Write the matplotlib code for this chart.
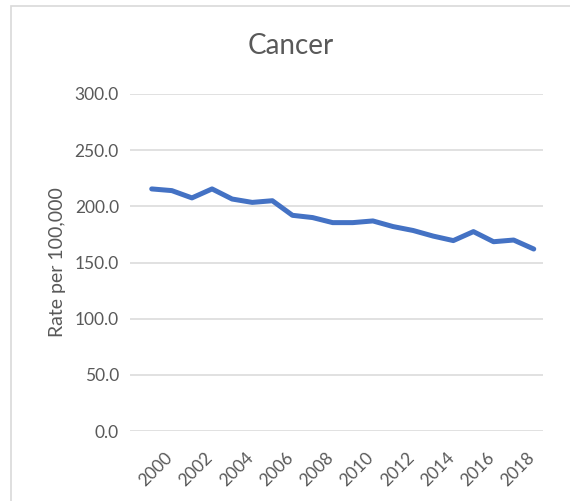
import numpy as np
import matplotlib
matplotlib.use('Agg')
import matplotlib.pyplot as plt
from matplotlib.transforms import ScaledTranslation, blended_transform_factory
from matplotlib.patches import Rectangle

plt.rcParams['font.family'] = ['Lato', 'DejaVu Sans']

# dati
anni = list(range(2000, 2020))
tasso = [215.5, 214.0, 207.5, 215.5, 206.5, 203.5, 205.0, 192.0, 190.0, 185.5,
         185.5, 187.0, 182.0, 178.5, 173.5, 169.5, 177.5, 168.5, 170.0, 162.0]
anni_etichette = list(range(2000, 2020, 2))
y_ticks = [0, 50, 100, 150, 200, 250, 300]

grigio_testo = '#595959'
blu = '#4472C4'

fig = plt.figure(figsize=(5.70, 5.01), dpi=100)
W, H = 570, 501
ax = fig.add_axes([130 / W, 1 - 431 / H, (543 - 130) / W, (431 - 94) / H])

ax.plot(anni, tasso, color=blu, linewidth=3.6, solid_capstyle='round', solid_joinstyle='round', zorder=3)

ax.set_ylim(0, 300)
ax.set_xlim(1998.92, 2019.46)
ax.set_yticks(y_ticks)
ax.set_yticklabels([f'{v:.1f}' for v in y_ticks], fontsize=12.5, color=grigio_testo)
ax.set_xticks(anni_etichette)
ax.set_xticklabels([])

# etichette anni ruotate come in Excel (spostate a destra e in basso rispetto al tick)
trans = blended_transform_factory(ax.transData, ax.transAxes) + \
    ScaledTranslation(18.5 / 100, -24 / 100, fig.dpi_scale_trans)
for a in anni_etichette:
    ax.text(a, 0, str(a), transform=trans, fontsize=12.5, color=grigio_testo,
            rotation=45, ha='right', va='center', rotation_mode='anchor', clip_on=False)

ax.grid(axis='y', color='#D9D9D9', linewidth=1.1)
ax.set_axisbelow(True)
ax.tick_params(length=0, pad=8)
for s in ax.spines.values():
    s.set_visible(False)

ax.set_ylabel('Rate per 100,000', fontsize=14, color=grigio_testo, labelpad=6)

fig.text(291 / W, 1 - 46 / H, 'Cancer', fontsize=20, color=grigio_testo, ha='center', va='center')

# bordo dell'area del grafico
fig.add_artist(Rectangle((11 / W, -0.1), 1.2, 1 - 6 / H + 0.1, transform=fig.transFigure,
                         fill=False, edgecolor='#D9D9D9', linewidth=1.2))

fig.savefig('out.png', dpi=100)
